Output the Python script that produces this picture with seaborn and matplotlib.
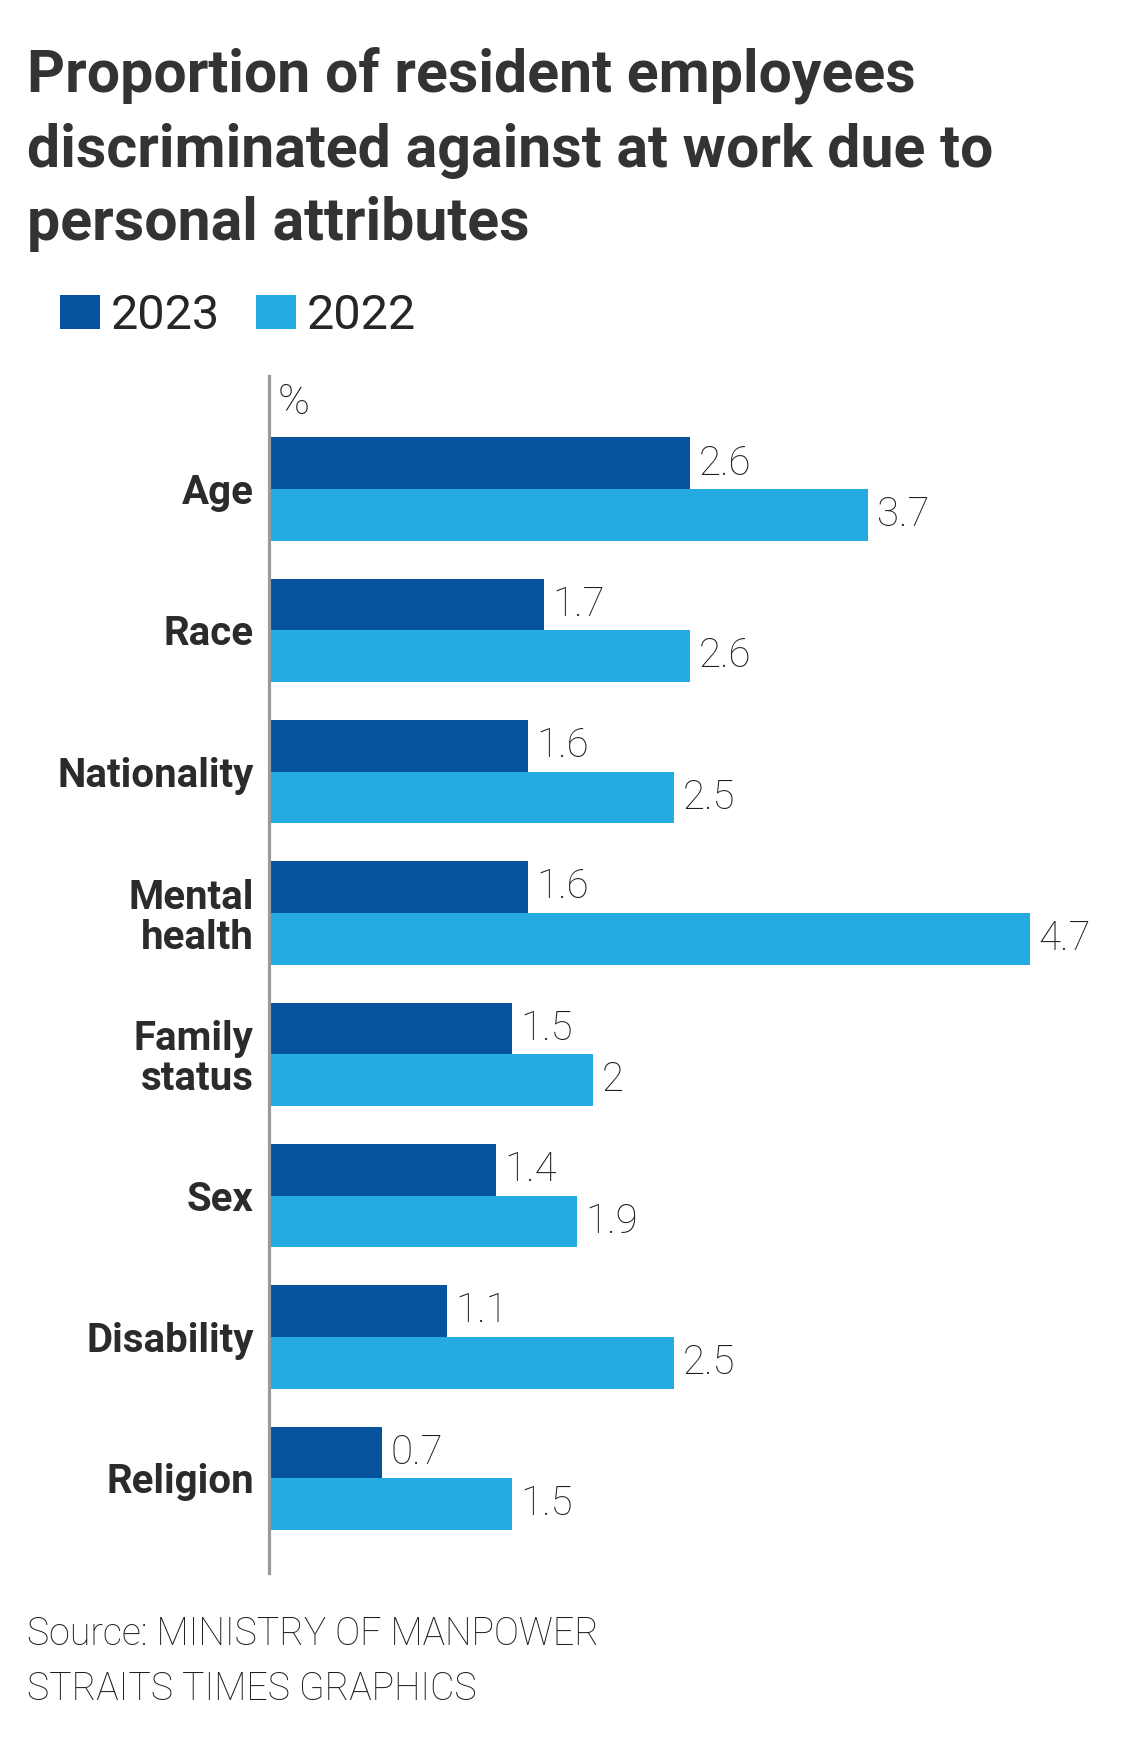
import pandas as pd
import seaborn as sns
import matplotlib.pyplot as plt

# Data
attributes = ['Age', 'Race', 'Nationality', 'Mental\nhealth', 'Family\nstatus',
              'Sex', 'Disability', 'Religion']
years = ['2023', '2022']
values_2023 = [2.6, 1.7, 1.6, 1.6, 1.5, 1.4, 1.1, 0.7]
values_2022 = [3.7, 2.6, 2.5, 4.7, 2.0, 1.9, 2.5, 1.5]
colors = ['#07529c', '#25aae1']

df = pd.DataFrame({
    'attribute': attributes * 2,
    'year': ['2023'] * len(attributes) + ['2022'] * len(attributes),
    'value': values_2023 + values_2022,
})

sns.set_style('white')
plt.rcParams['font.family'] = ['Roboto', 'DejaVu Sans']

W, H = 1140, 1752
fig = plt.figure(figsize=(W / 100, H / 100), dpi=100)

# axes placed in pixel terms
left, right, top, bottom = 269, 1140, 376, 1573
ax = fig.add_axes([left / W, 1 - bottom / H, (right - left) / W, (bottom - top) / H])

sns.barplot(data=df, y='attribute', x='value', hue='year', hue_order=years,
            order=attributes, palette=colors, width=0.73, saturation=1,
            orient='h', linewidth=0, ax=ax)

ax.set_xlim(0, (right - left) / 162)
ax.set_ylim(7.67, -0.80)

for spine in ['top', 'right', 'bottom']:
    ax.spines[spine].set_visible(False)
ax.spines['left'].set_color('#9a9a9a')
ax.spines['left'].set_linewidth(2.3)

ax.set_xticks([])
ax.set_xlabel('')
ax.set_ylabel('')
ax.tick_params(axis='y', length=0, pad=11)
for lbl in ax.get_yticklabels():
    lbl.set_fontsize(29)
    lbl.set_fontweight('bold')
    lbl.set_color('#2b2b2b')
    lbl.set_linespacing(1.05)

# value labels
for cont in ax.containers:
    ax.bar_label(cont, labels=[f'{b.get_width():g}' for b in cont], padding=6,
                 fontsize=29, fontweight='light', color='#1e1e1e')

# legend
handles, labels = ax.get_legend_handles_labels()
ax.legend(handles, labels, loc='upper left', ncol=2, frameon=False,
          bbox_to_anchor=(60 / W, 1 - 293 / H), bbox_transform=fig.transFigure,
          fontsize=35, handlelength=0.82, handleheight=0.68, handletextpad=0.22,
          columnspacing=0.75, borderpad=0, borderaxespad=0)

# title
title_lines = ['Proportion of resident employees',
               'discriminated against at work due to',
               'personal attributes']
for line, base in zip(title_lines, [92, 167, 240]):
    fig.text(27 / W, 1 - base / H, line, fontsize=42.5, fontweight='bold',
             color='#333333', va='baseline', ha='left')

fig.text(278 / W, 1 - 382 / H, '%', fontsize=31, fontweight='light',
         color='#1e1e1e', va='top', ha='left')

# footer
fig.text(27 / W, 1 - 1645 / H, 'Source: MINISTRY OF MANPOWER', fontsize=27,
         fontweight='light', color='#1e1e1e', va='baseline')
fig.text(27 / W, 1 - 1700 / H, 'STRAITS TIMES GRAPHICS', fontsize=27,
         fontweight='light', color='#1e1e1e', va='baseline')

fig.savefig('out.png', dpi=100)
